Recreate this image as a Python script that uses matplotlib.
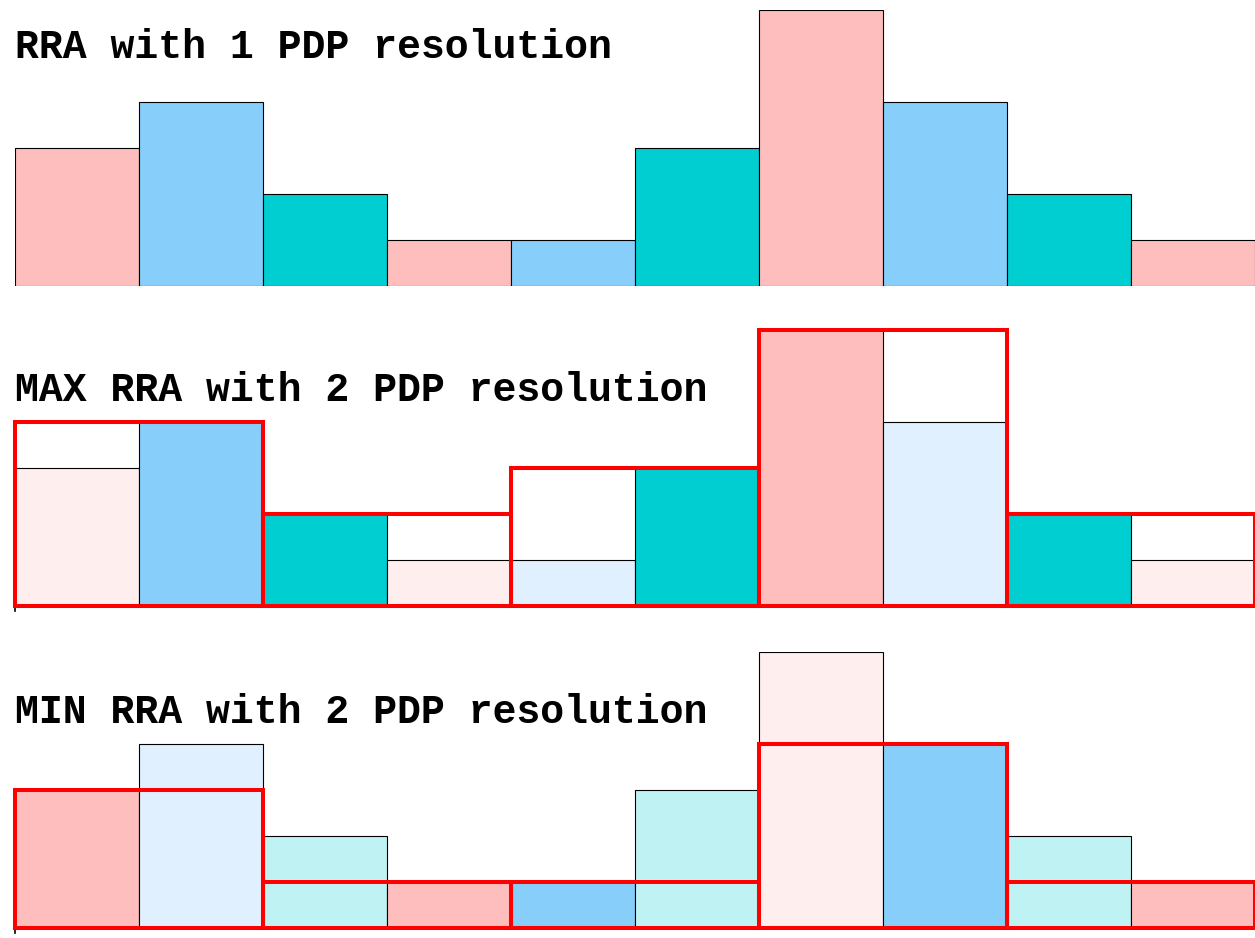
import matplotlib
matplotlib.use("Agg")
import matplotlib.pyplot as plt

# Data
pdp_values = [3, 4, 2, 1, 1, 3, 6, 4, 2, 1]
bar_kinds = ["pink", "blue", "teal", "pink", "blue", "teal", "pink", "blue", "teal", "pink"]
max_values = [4, 2, 3, 6, 2]
min_values = [3, 1, 1, 4, 1]
titles = ["RRA with 1 PDP resolution", "MAX RRA with 2 PDP resolution", "MIN RRA with 2 PDP resolution"]

full_colors = {"pink": "#FFBEBE", "blue": "#87CEFA", "teal": "#00CED1"}
pale_colors = {"pink": "#FFEEEE", "blue": "#E0F0FF", "teal": "#BFF3F3"}

W, H = 1255, 938
fig = plt.figure(figsize=(W / 100, H / 100), dpi=100)

left_px, right_px = 15, 1255
unit_px = 46
ymax = 6
baselines = [286, 606, 928]
title_baselines = [58, 401, 723]


def make_axes(baseline):
    ax = fig.add_axes([left_px / W, (H - baseline) / H, (right_px - left_px) / W, ymax * unit_px / H])
    ax.set_xlim(0, len(pdp_values))
    ax.set_ylim(0, ymax)
    ax.axis("off")
    return ax


xs = list(range(len(pdp_values)))

# Top panel
ax = make_axes(baselines[0])
ax.bar(xs, pdp_values, width=1, align="edge",
       color=[full_colors[k] for k in bar_kinds], edgecolor="black", linewidth=0.8)

# Consolidated panels
for panel, cons in ((1, max_values), (2, min_values)):
    ax = make_axes(baselines[panel])
    colors = []
    for i, v in enumerate(pdp_values):
        c = cons[i // 2]
        colors.append(full_colors[bar_kinds[i]] if v == c else pale_colors[bar_kinds[i]])
    ax.bar(xs, pdp_values, width=1, align="edge", color=colors,
           edgecolor="black", linewidth=0.8)
    pair_x = [2 * j for j in range(len(cons))]
    bars = ax.bar(pair_x, cons, width=2, align="edge", fill=False,
                  edgecolor="#FF0000", linewidth=2.9, zorder=5)
    for b in bars:
        b.set_clip_on(False)
    ax.plot([0, 0], [0, -0.11], color="black", linewidth=1.2, clip_on=False)

for t, yb in zip(titles, title_baselines):
    fig.text(15 / W, (H - yb) / H, t, fontsize=28.7, fontweight="bold",
             family=["Liberation Mono", "DejaVu Sans Mono"], va="baseline", ha="left")

fig.savefig("out.png", dpi=100)
